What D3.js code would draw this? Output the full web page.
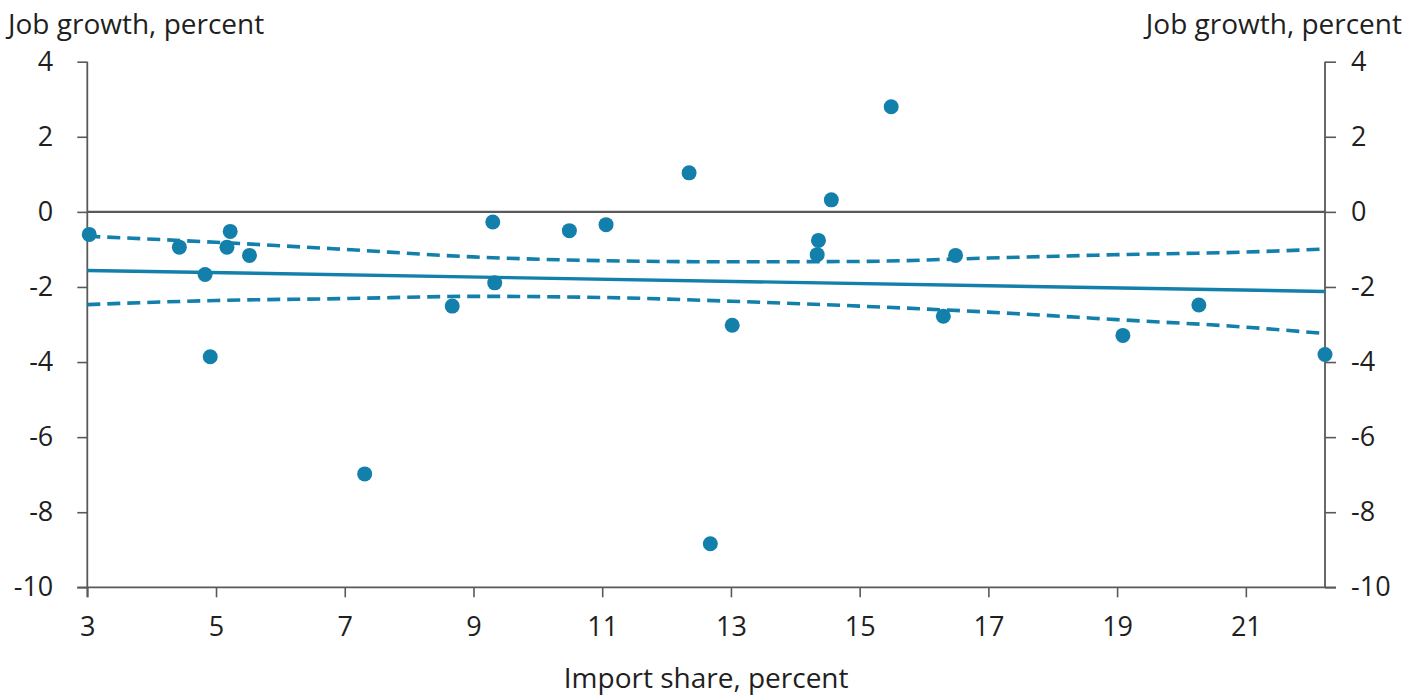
<!DOCTYPE html>
<html>
<head>
<meta charset="utf-8">
<script src="https://cdn.jsdelivr.net/npm/d3@7"></script>
<style>
  html, body { margin: 0; padding: 0; background: #fff; }
  svg { display: block; }
  text { font-family: "Open Sans", Lato, sans-serif; fill: #1f1f1f; }
</style>
</head>
<body>
<svg id="chart" width="1419" height="695"></svg>
<script>
// ---- data ----
const importShare = [3.03, 4.43, 4.83, 4.91, 5.17, 5.22, 5.52, 7.31, 8.67, 9.30, 9.33, 10.49, 11.06,
  12.35, 12.68, 13.02, 14.36, 14.34, 14.56, 15.49, 16.30, 16.49, 19.09, 20.27, 22.23];
const jobGrowth = [-0.60, -0.94, -1.67, -3.86, -0.94, -0.52, -1.16, -6.98, -2.51, -0.27, -1.89, -0.50, -0.34,
  1.04, -8.84, -3.02, -0.76, -1.14, 0.32, 2.80, -2.78, -1.16, -3.29, -2.48, -3.80];

const fitX = [3, 22.23];
const fitY = [-1.56, -2.12];

const bandX = [3, 5, 7, 9, 11, 13, 15, 17, 19, 21, 22.23];
const bandUpper = [-0.65, -0.81, -1.00, -1.20, -1.30, -1.33, -1.32, -1.23, -1.14, -1.07, -0.99];
const bandLower = [-2.47, -2.36, -2.31, -2.25, -2.28, -2.38, -2.51, -2.67, -2.87, -3.07, -3.24];

const xTicks = [3, 5, 7, 9, 11, 13, 15, 17, 19, 21];
const yTicks = [4, 2, 0, -2, -4, -6, -8, -10];

const yTitle = "Job growth, percent";
const xTitle = "Import share, percent";

// ---- drawing ----
const color = "#137fab";
const axisColor = "#595959";
const svg = d3.select("#chart");

const x = d3.scaleLinear().domain([3, 22.23]).range([87.3, 1325]);
const y = d3.scaleLinear().domain([-10, 4]).range([587.3, 61.7]);

const fontSize = 27;
const fmt = d => String(d);

// Zero line
svg.append("line")
  .attr("x1", x(3)).attr("x2", x(22.23))
  .attr("y1", y(0)).attr("y2", y(0))
  .attr("stroke", axisColor).attr("stroke-width", 2.2);

// Axes
const leftAxis = d3.axisLeft(y).tickValues(yTicks).tickSize(10).tickPadding(24).tickFormat(fmt);
const rightAxis = d3.axisRight(y).tickValues(yTicks).tickSize(11).tickPadding(15).tickFormat(fmt);
const bottomAxis = d3.axisBottom(x).tickValues(xTicks).tickSize(10).tickPadding(20).tickFormat(fmt);

function styleAxis(g) {
  g.select(".domain").remove();
  g.selectAll(".tick line").attr("stroke", axisColor).attr("stroke-width", 1.6);
  g.selectAll(".tick text").attr("font-size", fontSize)
    .attr("font-family", "'Open Sans', Lato, sans-serif").attr("fill", "#1f1f1f");
}

svg.append("g").attr("transform", `translate(${x(3)},0)`).call(leftAxis).call(styleAxis);
svg.append("g").attr("transform", `translate(${x(22.23)},0)`).call(rightAxis).call(styleAxis);
svg.append("g").attr("transform", `translate(0,${y(-10)})`).call(bottomAxis).call(styleAxis);

// axis lines
svg.append("line").attr("x1", x(3)).attr("x2", x(3)).attr("y1", y(4)).attr("y2", y(-10) + 10)
  .attr("stroke", axisColor).attr("stroke-width", 1.8);
svg.append("line").attr("x1", x(22.23)).attr("x2", x(22.23)).attr("y1", y(4)).attr("y2", y(-10))
  .attr("stroke", axisColor).attr("stroke-width", 1.8);
svg.append("line").attr("x1", x(3) - 10).attr("x2", x(22.23) + 11).attr("y1", y(-10)).attr("y2", y(-10))
  .attr("stroke", axisColor).attr("stroke-width", 1.8);

// Confidence band lines
const bandLine = d3.line().x(d => x(d[0])).y(d => y(d[1])).curve(d3.curveMonotoneX);
[bandUpper, bandLower].forEach(vals => {
  svg.append("path")
    .datum(bandX.map((v, i) => [v, vals[i]]))
    .attr("d", bandLine)
    .attr("fill", "none")
    .attr("stroke", color)
    .attr("stroke-width", 3.6)
    .attr("stroke-dasharray", "13,7");
});

// Fit line
svg.append("path")
  .datum(fitX.map((v, i) => [v, fitY[i]]))
  .attr("d", d3.line().x(d => x(d[0])).y(d => y(d[1])))
  .attr("fill", "none")
  .attr("stroke", color)
  .attr("stroke-width", 3.4);

// Points
svg.append("g").selectAll("circle")
  .data(importShare.map((v, i) => [v, jobGrowth[i]]))
  .join("circle")
  .attr("cx", d => x(d[0]))
  .attr("cy", d => y(d[1]))
  .attr("r", 7.5)
  .attr("fill", color);

// Titles
svg.append("text").attr("x", 8).attr("y", 34).attr("font-size", 28).text(yTitle);
svg.append("text").attr("x", 1402).attr("y", 34).attr("font-size", 28).attr("text-anchor", "end").text(yTitle);
svg.append("text").attr("x", (x(3) + x(22.23)) / 2).attr("y", 688).attr("font-size", 28)
  .attr("text-anchor", "middle").text(xTitle);
</script>
</body>
</html>
